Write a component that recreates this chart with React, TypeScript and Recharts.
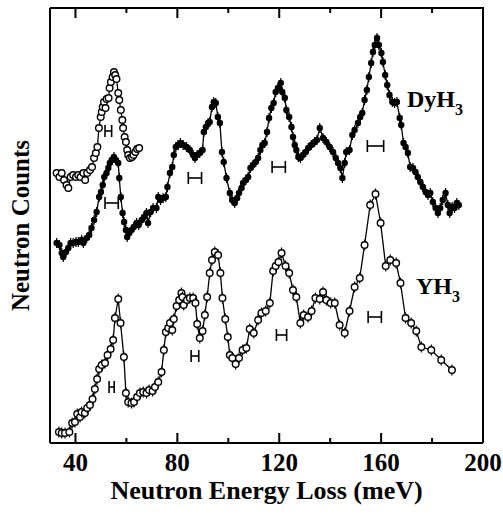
import { ComposedChart, Line, Scatter, XAxis, YAxis, ErrorBar } from 'recharts';

// energy (meV), counts (arbitrary, offset per curve as in the figure)
const dyLowEnergy = [
  [32.6, 270], [33.7, 266], [34.6, 270], [35.5, 263], [36.5, 258], [37.2, 255], [38.1, 266], [39.1, 268],
  [40.2, 266], [41.1, 268], [42.0, 266], [43.1, 270], [43.8, 263], [44.6, 270], [45.7, 273], [46.5, 276],
  [47.3, 285], [48.0, 290], [48.6, 296], [49.2, 315], [49.9, 326], [50.3, 331], [50.7, 336], [51.2, 341],
  [51.8, 335], [52.2, 344], [53.0, 345], [53.4, 355], [53.9, 361], [54.6, 366], [55.1, 371], [55.6, 368],
  [56.1, 364], [56.8, 350], [57.2, 343], [57.8, 333], [58.4, 323], [58.7, 315], [59.3, 306], [59.8, 301],
  [60.3, 293], [60.7, 288], [61.4, 285], [62.2, 286], [62.8, 288], [63.5, 291], [64.2, 294], [65.0, 295],
];

const dyH3 = [
  [32.6, 200], [33.7, 198], [34.6, 190], [35.2, 186], [36.3, 191], [37.2, 195], [38.1, 200], [39.1, 200],
  [40.2, 201], [41.1, 201], [42.4, 203], [43.1, 200], [44.4, 205], [45.4, 208], [46.3, 215], [47.3, 223],
  [48.3, 231], [49.3, 246], [50.0, 251], [50.7, 258], [51.3, 266], [52.2, 270], [52.9, 275], [53.5, 280],
  [54.2, 283], [55.1, 286], [55.9, 283], [56.8, 280], [57.2, 265], [57.8, 246], [58.5, 230], [59.1, 221],
  [59.8, 213], [60.3, 206], [61.1, 210], [62.0, 213], [62.9, 216], [64.0, 220], [64.8, 218], [66.0, 223],
  [66.9, 226], [67.9, 230], [68.5, 220], [69.5, 231], [70.5, 235], [71.8, 235], [72.5, 246], [73.4, 243],
  [74.4, 245], [75.5, 246], [76.1, 256], [77.1, 270], [78.0, 276], [78.6, 288], [79.4, 296], [80.3, 298],
  [81.2, 300], [82.3, 298], [83.6, 296], [84.9, 293], [86.2, 288], [86.9, 285], [87.8, 288], [88.8, 290],
  [89.9, 293], [90.4, 311], [91.2, 316], [92.1, 320], [92.7, 321], [93.6, 336], [94.3, 341], [95.1, 340],
  [95.9, 326], [96.7, 320], [97.5, 291], [98.2, 281], [99.3, 265], [100.6, 250], [101.5, 243], [102.5, 240],
  [103.5, 245], [104.2, 250], [105.2, 255], [105.8, 260], [106.9, 263], [107.8, 266], [108.7, 275], [109.7, 278],
  [110.8, 281], [111.7, 285], [112.6, 293], [113.4, 298], [114.3, 300], [115.2, 311], [116.0, 325], [116.9, 335],
  [117.8, 340], [118.6, 351], [119.5, 355], [120.6, 360], [121.2, 351], [122.2, 345], [122.8, 333], [123.9, 326],
  [124.8, 316], [125.4, 306], [126.1, 298], [126.7, 293], [127.5, 286], [128.3, 285], [129.3, 288], [130.4, 291],
  [131.4, 295], [132.6, 298], [133.9, 301], [134.8, 303], [135.9, 315], [137.2, 305], [138.5, 301], [139.8, 296],
  [141.1, 291], [142.2, 285], [143.1, 280], [144.0, 275], [144.8, 265], [145.7, 280], [146.3, 291], [147.6, 293],
  [148.7, 308], [149.6, 313], [150.9, 320], [151.8, 326], [152.6, 330], [153.5, 343], [154.4, 353], [155.2, 366],
  [156.1, 380], [156.8, 391], [157.5, 398], [158.4, 405], [159.1, 398], [160.1, 390], [160.7, 381], [161.6, 368],
  [162.4, 358], [163.3, 348], [164.4, 341], [165.3, 340], [166.2, 341], [167.3, 325], [167.9, 318], [168.8, 300],
  [169.6, 296], [170.5, 290], [171.4, 276], [172.5, 275], [173.5, 271], [174.4, 266], [175.4, 261], [176.4, 256],
  [177.5, 251], [178.4, 248], [179.3, 250], [180.3, 241], [181.4, 235], [182.3, 230], [183.2, 235], [184.2, 243],
  [185.3, 250], [186.2, 238], [186.9, 230], [187.9, 236], [188.8, 235], [189.7, 240], [190.5, 238],
];

const yH3 = [
  [33.5, 11], [34.6, 10], [35.9, 10], [37.6, 11], [38.7, 20], [39.8, 21], [40.7, 29], [41.8, 26],
  [42.4, 31], [43.7, 30], [44.6, 35], [45.7, 38], [46.7, 44], [47.6, 54], [48.5, 64], [49.3, 74],
  [50.3, 78], [51.6, 80], [52.6, 88], [53.8, 94], [54.8, 103], [55.5, 125], [56.8, 144], [57.7, 120],
  [59.0, 86], [59.8, 50], [60.7, 41], [62.0, 40], [63.0, 41], [64.2, 46], [65.3, 50], [66.6, 51],
  [67.9, 50], [68.9, 53], [70.3, 52], [71.2, 56], [72.5, 61], [73.8, 71], [74.7, 93], [75.5, 111],
  [76.4, 115], [77.1, 120], [78.0, 113], [78.6, 124], [79.7, 137], [80.7, 143], [81.6, 150], [82.0, 146],
  [82.5, 138], [83.8, 143], [84.9, 145], [86.2, 145], [87.1, 140], [87.8, 119], [88.8, 105], [89.9, 112],
  [90.8, 128], [91.7, 146], [92.7, 170], [93.6, 183], [94.7, 191], [96.0, 188], [96.9, 170], [97.7, 145],
  [98.8, 124], [99.8, 106], [100.6, 88], [101.6, 85], [102.9, 79], [104.2, 85], [105.6, 93], [107.1, 95],
  [108.4, 114], [110.0, 110], [111.7, 123], [113.0, 130], [114.7, 132], [116.3, 140], [117.6, 172], [118.6, 177],
  [119.7, 181], [120.9, 190], [122.5, 177], [123.9, 170], [125.4, 153], [126.7, 146], [128.3, 120], [129.6, 128],
  [131.3, 126], [132.7, 132], [134.2, 145], [135.9, 144], [137.2, 151], [138.5, 143], [140.2, 140], [141.8, 140],
  [143.7, 118], [145.7, 110], [147.6, 132], [149.6, 156], [151.6, 165], [153.5, 198], [155.7, 238], [157.8, 249],
  [159.8, 220], [161.8, 177], [163.6, 183], [165.9, 180], [167.6, 160], [169.6, 125], [171.8, 120], [173.8, 112],
  [175.8, 96], [179.7, 93], [183.6, 83], [187.8, 73],
];

// instrumental resolution bars: energy, counts, half width
const dyResolution = [
  [52.9, 312, 1.3], [54.2, 240, 2.6], [86.9, 265, 2.6], [119.8, 276, 2.6], [157.8, 297, 3.2],
];
const yResolution = [
  [54.2, 56, 1.0], [86.9, 87, 1.5], [120.9, 108, 2.0], [157.5, 126, 2.6],
];

const xTicks = [40, 60, 80, 100, 120, 140, 160, 180, 200];
const xMin = 30;
const xMax = 200;
const yMax = 435;

const toPoints = (rows: number[][]) => rows.map(([e, c]) => ({ e, c }));
const toBars = (rows: number[][]) => rows.map(([e, c, hw]) => ({ e, c, hw }));

// box around the plot (top and right edges) and inward tick marks
const frameEdges = [
  { e: xMin, c: yMax },
  { e: xMax, c: yMax },
  { e: xMax, c: 0 },
];
const bottomTicks = xTicks.map((v) => ({ e: v, c: 0, dir: -1, len: v % 40 === 0 ? 10 : 5 }));
const topTicks = xTicks.map((v) => ({ e: v, c: yMax, dir: 1, len: v % 40 === 0 ? 10 : 5 }));

const FONT = '"Liberation Serif", "Times New Roman", serif';

const BottomTick = (props: any) => {
  const { x, y, payload } = props;
  if (payload.value % 40 !== 0) return <g />;
  return (
    <text x={x} y={y + 28} textAnchor="middle" fontFamily={FONT} fontWeight="bold" fontSize={25} fill="#000">
      {payload.value}
    </text>
  );
};

const TickMark = (p: any) => {
  const { cx, cy } = p;
  const d = p.payload && p.payload.len != null ? p.payload : p;
  const dir = d.dir ?? (cy > 200 ? -1 : 1);
  const len = d.len ?? 10;
  return <path d={`M${cx},${cy}V${cy + dir * len}`} stroke="#000" strokeWidth={2} fill="none" />;
};

const FilledDot = (p: any) => {
  const { cx, cy, index } = p;
  if (cx == null || cy == null) return <g key={`f${index}`} />;
  return (
    <g key={`f${index}`}>
      <line x1={cx} x2={cx} y1={cy - 5} y2={cy + 5} stroke="#000" strokeWidth={1.2} />
      <circle cx={cx} cy={cy} r={3.2} fill="#000" />
    </g>
  );
};

const DiamondDot = (p: any) => {
  const { cx, cy, index } = p;
  if (cx == null || cy == null) return <g key={`y${index}`} />;
  return (
    <g key={`y${index}`}>
      <line x1={cx} x2={cx} y1={cy - 5.5} y2={cy + 5.5} stroke="#000" strokeWidth={1.2} />
      <circle cx={cx} cy={cy} r={3.3} fill="#fff" stroke="#000" strokeWidth={1.4} />
    </g>
  );
};

const YLabel = (props: any) => {
  const { viewBox } = props;
  const cx = viewBox.x + 20;
  const cy = viewBox.y + viewBox.height / 2;
  return (
    <text
      x={cx}
      y={cy}
      transform={`rotate(-90, ${cx}, ${cy})`}
      textAnchor="middle"
      dominantBaseline="central"
      fontFamily={FONT}
      fontWeight="bold"
      fontSize={25}
      fill="#000"
    >
      Neutron Counts
    </text>
  );
};

export default function App() {
  return (
    <div style={{ position: 'absolute', left: 0, top: 0, width: 503, height: 516, background: '#fff' }}>
      <ComposedChart width={503} height={516} margin={{ top: 8, right: 20, bottom: 0, left: 0 }}>
        <XAxis
          dataKey="e"
          type="number"
          domain={[xMin, xMax]}
          ticks={xTicks}
          interval={0}
          height={73}
          tickSize={0}
          tickMargin={0}
          tick={BottomTick}
          axisLine={{ stroke: '#000', strokeWidth: 2 }}
          label={{
            value: 'Neutron Energy Loss (meV)',
            position: 'insideBottom',
            offset: 17,
            fontFamily: FONT,
            fontWeight: 'bold',
            fontSize: 26,
            fill: '#000',
          }}
        />
        <YAxis
          type="number"
          domain={[0, yMax]}
          width={50}
          tick={false}
          tickLine={false}
          axisLine={{ stroke: '#000', strokeWidth: 2 }}
          label={<YLabel />}
        />
        <Line
          data={frameEdges}
          dataKey="c"
          type="linear"
          stroke="#000"
          strokeWidth={2}
          dot={false}
          isAnimationActive={false}
        />
        <Scatter data={bottomTicks} dataKey="c" shape={TickMark} isAnimationActive={false} />
        <Scatter data={topTicks} dataKey="c" shape={TickMark} isAnimationActive={false} />
        <Line
          data={toPoints(yH3)}
          dataKey="c"
          type="linear"
          stroke="#000"
          strokeWidth={1.3}
          dot={DiamondDot}
          isAnimationActive={false}
        />
        <Line
          data={toPoints(dyH3)}
          dataKey="c"
          type="linear"
          stroke="#000"
          strokeWidth={1.3}
          dot={FilledDot}
          isAnimationActive={false}
        />
        <Line
          data={toPoints(dyLowEnergy)}
          dataKey="c"
          type="linear"
          stroke="#000"
          strokeWidth={1.3}
          dot={{ r: 3.3, fill: '#fff', stroke: '#000', strokeWidth: 1.4 }}
          isAnimationActive={false}
        />
        <Scatter data={toBars(dyResolution)} dataKey="c" shape={() => <g />} isAnimationActive={false}>
          <ErrorBar dataKey="hw" direction="x" width={6} stroke="#000" strokeWidth={1.6} />
        </Scatter>
        <Scatter data={toBars(yResolution)} dataKey="c" shape={() => <g />} isAnimationActive={false}>
          <ErrorBar dataKey="hw" direction="x" width={6} stroke="#000" strokeWidth={1.6} />
        </Scatter>
        <text x={407} y={107} fontFamily={FONT} fontWeight="bold" fontSize={24} fill="#000">
          DyH<tspan fontSize={16} dy={8}>3</tspan>
        </text>
        <text x={416} y={294} fontFamily={FONT} fontWeight="bold" fontSize={24} fill="#000">
          YH<tspan fontSize={16} dy={8}>3</tspan>
        </text>
      </ComposedChart>
    </div>
  );
}
